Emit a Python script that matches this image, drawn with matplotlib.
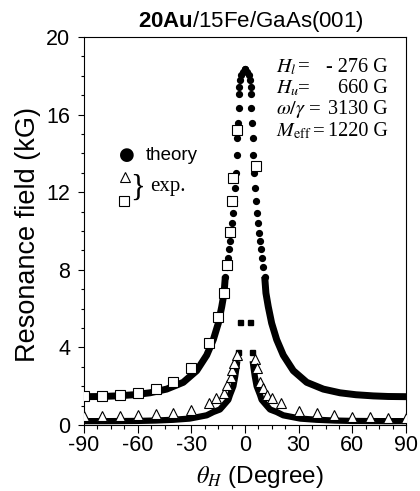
import numpy as np
import matplotlib
matplotlib.use("Agg")
import matplotlib.pyplot as plt
from matplotlib.ticker import MultipleLocator, FormatStrFormatter

plt.rcParams['font.family'] = ['Liberation Sans', 'DejaVu Sans']
plt.rcParams['axes.unicode_minus'] = False
plt.rcParams['mathtext.fontset'] = 'custom'
plt.rcParams['mathtext.rm'] = 'Liberation Sans'
plt.rcParams['mathtext.bf'] = 'Liberation Sans:bold'
plt.rcParams['mathtext.it'] = 'Liberation Sans:italic'

# theory, upper (high field) branch, right half; left half is the mirror image
th_up_dots = [0.0, 1.2, 2.0, 2.9, 3.2, 3.3, 3.5, 3.85, 4.2, 4.5, 5.0, 5.6, 6.2,
              6.9, 7.4, 7.9, 8.4, 8.9, 9.4, 10.1, 11.0]
H_up_dots = [18.35, 18.2, 18.05, 17.8, 17.4, 17.05, 16.35, 15.55, 14.8, 13.9, 13.0,
             12.2, 11.55, 10.95, 10.42, 9.9, 9.47, 9.05, 8.6, 8.15, 7.65]
th_up_band = [11.0, 11.7, 13.0, 14.9, 17.7, 21.4, 27.0, 34.5, 43.8, 53.1, 62.0, 71.7, 80.0, 90.0]
H_up_band = [7.65, 6.8, 6.1, 5.25, 4.4, 3.6, 2.8, 2.2, 1.85, 1.66, 1.56, 1.5, 1.47, 1.46]

# theory, lower branch, right half
th_lo_sq = [2.8, 3.9]
H_lo_sq = [5.3, 3.78]
th_lo_band = [4.3, 4.7, 5.5, 6.5, 8.4, 9.3, 12.1, 14.0, 17.7, 21.4, 27.0, 31.0, 40.0, 50.0, 60.0, 75.0, 90.0]
H_lo_band = [3.3, 3.0, 2.5, 2.0, 1.55, 1.3, 1.0, 0.8, 0.67, 0.5, 0.4, 0.33, 0.27, 0.23, 0.21, 0.2, 0.2]

# experiment
th_sq = [-90, -80, -70, -60, -50, -40, -30, -20, -15, -12, -10, -8.5, -7, -6.5, -4.7, 6]
H_sq = [1.5, 1.5, 1.55, 1.65, 1.86, 2.24, 2.93, 4.25, 5.55, 6.8, 8.25, 9.95, 11.55, 12.75, 15.2, 13.35]
th_tri = [-90, -80, -70, -60, -50, -40, -30, -20, -16, -12, -10, -8, -7, -6, -4.7,
          5.6, 6.9, 8.4, 9.9, 12.1, 14.9, 20, 30, 40, 50, 60, 70, 80, 90]
H_tri = [0.48, 0.48, 0.48, 0.52, 0.57, 0.64, 0.77, 1.12, 1.38, 1.67, 2.05, 2.5, 2.84, 3.18, 3.62,
         3.4, 2.93, 2.24, 1.89, 1.55, 1.38, 1.15, 0.74, 0.6, 0.52, 0.43, 0.4, 0.38, 0.38]

param_labels = [r"$H_l$", r"$H_u$", r"$\omega/\gamma$", r"$M_{\rm eff}$"]
param_values = ["- 276 G", "660 G", "3130 G", "1220 G"]
eq_x = [298, 298, 309, 313]

W, Hpx = 420, 491
fig = plt.figure(figsize=(W / 100, Hpx / 100), dpi=100)
ax = fig.add_axes([84 / W, 1 - 425 / Hpx, 322 / W, 388 / Hpx])

for sgn in (1, -1):
    ax.plot(sgn * np.array(th_up_band), H_up_band, color='black', lw=5, solid_capstyle='butt', zorder=2)
    ax.plot(sgn * np.array(th_lo_band), H_lo_band, color='black', lw=4.5, solid_capstyle='butt', zorder=2)
    ax.plot(sgn * np.array(th_up_dots), H_up_dots, 'o', color='black', ms=4.2, zorder=2)
    ax.plot(sgn * np.array(th_lo_sq), H_lo_sq, 's', color='black', ms=3.6, zorder=2)

ax.plot(th_sq, H_sq, 's', mfc='white', mec='black', ms=6.5, mew=0.8, zorder=3)
ax.plot(th_tri, H_tri, '^', mfc='white', mec='black', ms=7, mew=0.8, zorder=3)

ax.set_xlim(-90, 90)
ax.set_ylim(0, 20)
ax.xaxis.set_major_locator(MultipleLocator(30))
ax.xaxis.set_minor_locator(MultipleLocator(7.5))
ax.yaxis.set_major_locator(MultipleLocator(4))
ax.yaxis.set_minor_locator(MultipleLocator(1))
ax.xaxis.set_major_formatter(FormatStrFormatter('%d'))
ax.yaxis.set_major_formatter(FormatStrFormatter('%d'))
ax.tick_params(axis='x', which='major', length=5.5, width=0.8, pad=2, labelsize=15.5)
ax.tick_params(axis='x', which='minor', length=3, width=0.8)
ax.tick_params(axis='y', which='major', length=4, width=0.8, pad=6, labelsize=15.5)
ax.tick_params(axis='y', which='minor', length=2, width=0.8)
for s in ax.spines.values():
    s.set_linewidth(0.8)

fig.text(260 / W, 1 - 477 / Hpx, r"$\theta_H$ (Degree)", fontsize=17.5, math_fontfamily='stix',
         ha='center', va='center')
fig.text(28 / W, 1 - 234 / Hpx, "Resonance field (kG)", fontsize=19.5, rotation=90,
         ha='center', va='center')
fig.text(251 / W, 1 - 21 / Hpx, r"$\mathbf{20Au}$/15Fe/GaAs(001)", fontsize=16,
         ha='center', va='center')

# parameter block
for i in range(len(param_labels)):
    y = 1 - (67 + 21.5 * i) / Hpx
    fig.text(276 / W, y, param_labels[i], fontsize=14.5, family='Liberation Serif',
             math_fontfamily='stix', ha='left', va='center')
    fig.text(eq_x[i] / W, y, "=", fontsize=15, family='Liberation Serif', ha='left', va='center')
    fig.text(388 / W, y, param_values[i], fontsize=14.5, family='Liberation Serif',
             ha='right', va='center')

# hand-made legend
fig.text(127 / W, 1 - 155 / Hpx, u"\u25CF", fontsize=13, family='DejaVu Sans', ha='center', va='center')
fig.text(146 / W, 1 - 155 / Hpx, "theory", fontsize=13.5, ha='left', va='center')
fig.lines.append(plt.Line2D([125 / W], [1 - 177 / Hpx], marker='^', mfc='white', mec='black',
                            ms=7, mew=0.8, transform=fig.transFigure))
fig.lines.append(plt.Line2D([124 / W], [1 - 201 / Hpx], marker='s', mfc='white', mec='black',
                            ms=6.5, mew=0.8, transform=fig.transFigure))
fig.text(138 / W, 1 - 188 / Hpx, "}", fontsize=22, family='Liberation Serif', ha='center', va='center')
fig.text(150 / W, 1 - 186 / Hpx, "exp.", fontsize=15, family='Liberation Serif', ha='left', va='center')

fig.savefig("out.png", dpi=100)
